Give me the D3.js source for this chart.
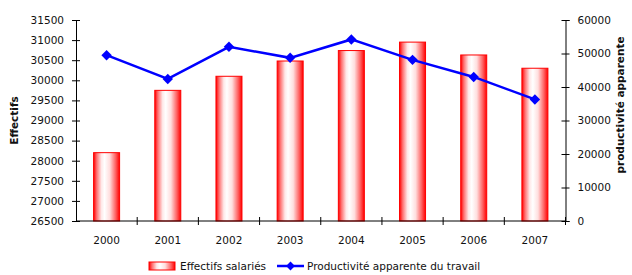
<!DOCTYPE html>
<html>
<head>
<meta charset="utf-8">
<script src="https://cdn.jsdelivr.net/npm/d3@7"></script>
<style>
  body { margin: 0; background: #fff; }
  text { font-family: "DejaVu Sans", sans-serif; fill: #111; }
</style>
</head>
<body>
<svg id="chart" width="632" height="275"></svg>
<script>
var years = ['2000', '2001', '2002', '2003', '2004', '2005', '2006', '2007'];
var effectifs = [28200, 29750, 30100, 30480, 30740, 30950, 30630, 30300];
var productivite = [49500, 42400, 52000, 48700, 54200, 48100, 43000, 36300];
var leftTicks = [26500, 27000, 27500, 28000, 28500, 29000, 29500, 30000, 30500, 31000, 31500];
var rightTicks = [0, 10000, 20000, 30000, 40000, 50000, 60000];

var svg = d3.select('#chart');
var L = 76, R = 565.5, T = 20, B = 221;

var x = d3.scaleBand().domain(years).range([L, R]).paddingInner(0.575).paddingOuter(0.2875);
var xc = d3.scaleBand().domain(years).range([L, R]);
var yL = d3.scaleLinear().domain([26500, 31500]).range([B, T]);
var yR = d3.scaleLinear().domain([0, 60000]).range([B, T]);

var defs = svg.append('defs');
var grad = defs.append('linearGradient').attr('id', 'barGrad')
    .attr('x1', '0%').attr('x2', '100%').attr('y1', '0%').attr('y2', '0%');
grad.append('stop').attr('offset', '0%').attr('stop-color', '#ff0000');
grad.append('stop').attr('offset', '12%').attr('stop-color', '#ff7070');
grad.append('stop').attr('offset', '30%').attr('stop-color', '#ffe8e8');
grad.append('stop').attr('offset', '42%').attr('stop-color', '#ffffff');
grad.append('stop').attr('offset', '62%').attr('stop-color', '#ffdede');
grad.append('stop').attr('offset', '85%').attr('stop-color', '#ff6060');
grad.append('stop').attr('offset', '100%').attr('stop-color', '#ff0000');

// bars
svg.append('g').selectAll('rect')
    .data(effectifs)
    .enter()
    .append('rect')
    .attr('x', function(d, i) { return x(years[i]); })
    .attr('y', function(d) { return yL(d); })
    .attr('width', x.bandwidth())
    .attr('height', function(d) { return B - yL(d); })
    .attr('fill', 'url(#barGrad)')
    .attr('stroke', '#ff0000')
    .attr('stroke-width', 1);

// axes
var axL = svg.append('g').attr('transform', 'translate(' + L + ',0)')
    .call(d3.axisLeft(yL).tickValues(leftTicks).tickSize(4).tickPadding(8).tickFormat(d3.format('d')));
axL.selectAll('.tick line').attr('x1', 4);
var axR = svg.append('g').attr('transform', 'translate(' + R + ',0)')
    .call(d3.axisRight(yR).tickValues(rightTicks).tickSize(4).tickPadding(8).tickFormat(d3.format('d')));
axR.selectAll('.tick line').attr('x1', -4);
var axB = svg.append('g').attr('transform', 'translate(0,' + B + ')')
    .call(d3.axisBottom(xc).tickSize(0).tickPadding(16));
axB.append('g').selectAll('line')
    .data(years.slice(1))
    .enter()
    .append('line')
    .attr('x1', function(d) { return xc(d); })
    .attr('x2', function(d) { return xc(d); })
    .attr('y1', -4).attr('y2', 4)
    .attr('stroke', '#000');
axB.append('line').attr('x1', R).attr('x2', R).attr('y1', -4).attr('y2', 4).attr('stroke', '#000');

svg.selectAll('.domain').attr('stroke', '#000');
svg.selectAll('.tick line').attr('stroke', '#000');
svg.selectAll('.tick text').style('font-family', '"DejaVu Sans", sans-serif').style('font-size', '10.5px').attr('fill', '#111');
axB.select('.domain').attr('d', 'M' + L + ',0H' + R);

// line
var line = d3.line()
    .x(function(d, i) { return xc(years[i]) + xc.bandwidth() / 2; })
    .y(function(d) { return yR(d); });
svg.append('path')
    .datum(productivite)
    .attr('d', line)
    .attr('fill', 'none')
    .attr('stroke', '#0000ff')
    .attr('stroke-width', 2.5);
svg.append('g').selectAll('path')
    .data(productivite)
    .enter()
    .append('path')
    .attr('d', d3.symbol().type(d3.symbolDiamond2).size(70))
    .attr('transform', function(d, i) { return 'translate(' + (xc(years[i]) + xc.bandwidth() / 2) + ',' + yR(d) + ')'; })
    .attr('fill', '#0000ff');

// titles
svg.append('text')
    .attr('transform', 'translate(18,' + ((T + B) / 2) + ') rotate(-90)')
    .attr('text-anchor', 'middle')
    .style('font-size', '10.5px').style('font-weight', 'bold')
    .text('Effectifs');
svg.append('text')
    .attr('transform', 'translate(624,' + 105 + ') rotate(-90)')
    .attr('text-anchor', 'middle')
    .style('font-size', '10.5px').style('font-weight', 'bold')
    .text('productivité apparente');

// legend
var lg = svg.append('g').attr('transform', 'translate(0,266)');
lg.append('rect').attr('x', 149).attr('y', -4).attr('width', 26).attr('height', 8)
    .attr('fill', 'url(#barGrad)').attr('stroke', '#ff0000');
lg.append('text').attr('x', 180).attr('y', 4).style('font-size', '10.5px').text('Effectifs salariés');
lg.append('line').attr('x1', 277).attr('x2', 304).attr('y1', 0).attr('y2', 0)
    .attr('stroke', '#0000ff').attr('stroke-width', 2.5);
lg.append('path').attr('d', d3.symbol().type(d3.symbolDiamond2).size(50))
    .attr('transform', 'translate(290.5,0)').attr('fill', '#0000ff');
lg.append('text').attr('x', 307).attr('y', 4).style('font-size', '10.5px').text('Productivité apparente du travail');
</script>
</body>
</html>
